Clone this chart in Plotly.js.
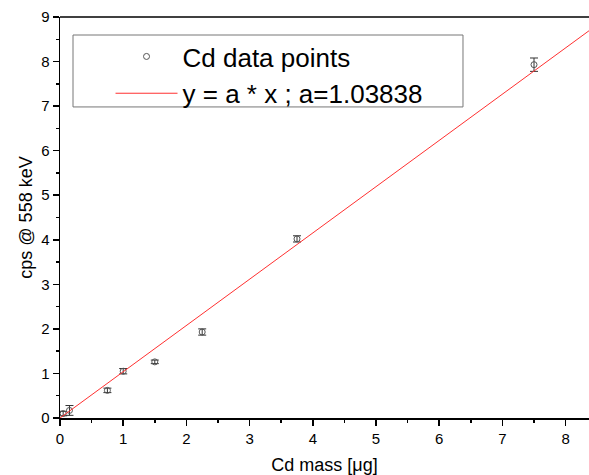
<!DOCTYPE html>
<html>
<head>
<meta charset="utf-8">
<script src="https://cdn.plot.ly/plotly-3.0.1.min.js"></script>
<style>html,body{margin:0;padding:0;background:#fff;}#chart{width:589px;height:475px;}</style>
</head>
<body>
<div id="chart"></div>
<script>
// Data
const cdMass = [0.05, 0.15, 0.75, 1.0, 1.5, 2.25, 3.75, 7.5];
const cpsValues = [0.10, 0.17, 0.62, 1.05, 1.26, 1.93, 4.02, 7.93];
const cpsErrors = [0.05, 0.11, 0.05, 0.06, 0.04, 0.07, 0.07, 0.15];
const slopeA = 1.03838;
const fitX = [0, 8.4];
const fitY = fitX.map(v => slopeA * v);
const xTicks = [0, 1, 2, 3, 4, 5, 6, 7, 8];
const yTicks = [0, 1, 2, 3, 4, 5, 6, 7, 8, 9];

const font = 'Liberation Sans, Arial, sans-serif';

const traces = [
  {
    x: cdMass, y: cpsValues, type: 'scatter', mode: 'markers',
    name: 'Cd data points',
    marker: {symbol: 'circle-open', size: 6, color: '#555', line: {width: 1}},
    error_y: {type: 'data', array: cpsErrors, visible: true, color: '#333', thickness: 1, width: 4}
  },
  {
    x: fitX, y: fitY, type: 'scatter', mode: 'lines',
    name: 'y = a * x ; a=1.03838',
    line: {color: '#ff3030', width: 1}
  }
];

const layout = {
  width: 589, height: 475,
  margin: {l: 60, r: 0, t: 17, b: 57, pad: 0},
  paper_bgcolor: '#fff', plot_bgcolor: '#fff',
  font: {family: font, color: '#000', size: 14},
  showlegend: true,
  legend: {
    x: 0.0955, y: 0.96, xanchor: 'left', yanchor: 'top',
    bgcolor: 'rgba(0,0,0,0)', borderwidth: 0,
    font: {family: font, size: 26, color: '#000'},
    itemwidth: 62, tracegroupgap: 0
  },
  xaxis: {
    range: [0, 8.37], tickvals: xTicks, ticktext: xTicks.map(String),
    showgrid: false, zeroline: false, showline: true, linecolor: '#000', linewidth: 1.5,
    ticks: 'outside', ticklen: 6, tickwidth: 1.5, tickcolor: '#000',
    minor: {dtick: 0.5, tick0: 0, ticks: 'outside', ticklen: 3, tickwidth: 1.5, tickcolor: '#000'},
    tickfont: {size: 15},
    title: {text: 'Cd mass [μg]', font: {size: 18}, standoff: 18},
    automargin: false
  },
  yaxis: {
    range: [0, 9], tickvals: yTicks, ticktext: yTicks.map(String),
    showgrid: false, zeroline: false, showline: true, linecolor: '#000', linewidth: 1.5,
    ticks: 'outside', ticklen: 6, tickwidth: 1.5, tickcolor: '#000',
    minor: {dtick: 0.5, tick0: 0, ticks: 'outside', ticklen: 3, tickwidth: 1.5, tickcolor: '#000'},
    tickfont: {size: 15},
    title: {text: 'cps @ 558 keV', font: {size: 18}, standoff: 4},
    automargin: false
  },
  shapes: [
    {type: 'line', xref: 'paper', yref: 'paper', x0: 0, x1: 1, y0: 1, y1: 1, line: {color: '#000', width: 1.5}},
    {type: 'rect', xref: 'paper', yref: 'paper', x0: 0.0246, x1: 0.7618, y0: 0.7757, y1: 0.9551, line: {color: '#777', width: 1}, fillcolor: 'rgba(0,0,0,0)'}
  ]
};

Plotly.newPlot('chart', traces, layout, {displayModeBar: false, staticPlot: true});
</script>
</body>
</html>
